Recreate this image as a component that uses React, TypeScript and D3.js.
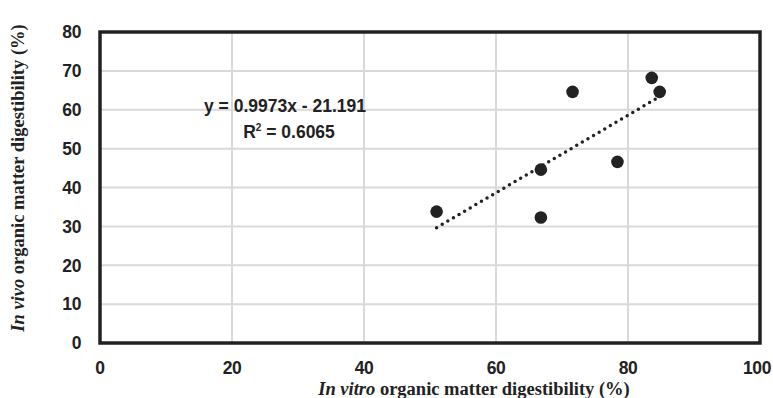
import React, { useEffect, useRef } from 'react'
import * as d3 from 'd3'

// measured points (in vitro OMD, in vivo OMD)
const inVitro = [51.0, 66.8, 66.8, 71.6, 78.4, 83.6, 84.8]
const inVivo = [33.8, 32.3, 44.6, 64.6, 46.6, 68.2, 64.6]
const xTicks = [0, 20, 40, 60, 80, 100]
const yTicks = [0, 10, 20, 30, 40, 50, 60, 70, 80]
const slope = 0.9973
const intercept = -21.191
const eqLabel = 'y = 0.9973x - 21.191'
const r2Label = '0.6065'

const App = () => {
  const ref = useRef<SVGSVGElement>(null)

  useEffect(() => {
    const width = 773
    const height = 398
    const svg = d3.select(ref.current)
    svg.selectAll('*').remove()

    const x = d3.scaleLinear().domain([0, 100]).range([100, 760])
    const y = d3.scaleLinear().domain([0, 80]).range([343, 32])

    // grid
    svg.append('g').selectAll('line').data(xTicks.slice(1, -1)).join('line')
      .attr('x1', d => x(d)).attr('x2', d => x(d))
      .attr('y1', y(80)).attr('y2', y(0))
      .attr('stroke', '#d9d9d9').attr('stroke-width', 2)
    svg.append('g').selectAll('line').data(yTicks.slice(1, -1)).join('line')
      .attr('x1', x(0)).attr('x2', x(100))
      .attr('y1', d => y(d)).attr('y2', d => y(d))
      .attr('stroke', '#d9d9d9').attr('stroke-width', 2)

    // tick labels
    const tickFont = '"Liberation Sans", Arial, sans-serif'
    svg.append('g').selectAll('text').data(yTicks).join('text')
      .attr('x', 81).attr('y', d => y(d)).attr('dy', '0.36em')
      .attr('text-anchor', 'end')
      .attr('font-family', tickFont).attr('font-weight', 'bold').attr('font-size', 17.5)
      .attr('letter-spacing', -0.4)
      .attr('fill', '#222').text(d => d)
    svg.append('g').selectAll('text').data(xTicks).join('text')
      .attr('x', d => x(d)).attr('y', 374)
      .attr('dx', d => (d === 100 ? -3 : 0))
      .attr('text-anchor', 'middle')
      .attr('font-family', tickFont).attr('font-weight', 'bold').attr('font-size', 17.5)
      .attr('letter-spacing', -0.4)
      .attr('fill', '#222').text(d => d)

    // trendline
    const ext = d3.extent(inVitro) as [number, number]
    svg.append('line')
      .attr('x1', x(ext[0])).attr('y1', y(slope * ext[0] + intercept))
      .attr('x2', x(ext[1])).attr('y2', y(slope * ext[1] + intercept))
      .attr('stroke', '#222').attr('stroke-width', 3.5)
      .attr('stroke-dasharray', '0 6.5').attr('stroke-linecap', 'round')

    // points
    svg.append('g').selectAll('circle').data(inVitro).join('circle')
      .attr('cx', d => x(d)).attr('cy', (d, i) => y(inVivo[i]))
      .attr('r', 6.3).attr('fill', '#222')

    // frame
    svg.append('rect')
      .attr('x', x(0)).attr('y', y(80))
      .attr('width', x(100) - x(0)).attr('height', y(0) - y(80))
      .attr('fill', 'none').attr('stroke', '#222').attr('stroke-width', 3.5)

    // equation
    svg.append('text').attr('x', 285).attr('y', 112).attr('text-anchor', 'middle')
      .attr('font-family', tickFont).attr('font-weight', 'bold').attr('font-size', 17.5)
      .attr('fill', '#222').text(eqLabel)
    const r2 = svg.append('text').attr('x', 289).attr('y', 138).attr('text-anchor', 'middle')
      .attr('font-family', tickFont).attr('font-weight', 'bold').attr('font-size', 17.5)
      .attr('fill', '#222')
    r2.append('tspan').text('R')
    r2.append('tspan').attr('font-size', 10).attr('dy', -7).text('2')
    r2.append('tspan').attr('dy', 7).text(' = ' + r2Label)

    // axis titles
    const serif = '"Liberation Serif", "Times New Roman", serif'
    const xt = svg.append('text').attr('x', 474).attr('y', 395).attr('text-anchor', 'middle')
      .attr('font-family', serif).attr('font-weight', 'bold').attr('font-size', 18.5)
      .attr('fill', '#222')
    xt.append('tspan').attr('font-style', 'italic').text('In vitro')
    xt.append('tspan').text(' organic matter digestibility (%)')

    const yt = svg.append('text')
      .attr('transform', `translate(24, 178) rotate(-90)`)
      .attr('text-anchor', 'middle')
      .attr('font-family', serif).attr('font-weight', 'bold').attr('font-size', 18.5)
      .attr('fill', '#222')
    yt.append('tspan').attr('font-style', 'italic').text('In vivo')
    yt.append('tspan').text(' organic matter digestibility (%)')

    svg.attr('width', width).attr('height', height)
  }, [])

  return (
    <div style={{ position: 'absolute', left: 0, top: 0, background: '#fff' }}>
      <svg ref={ref} width={773} height={398} style={{ display: 'block' }} />
    </div>
  )
}

export default App
